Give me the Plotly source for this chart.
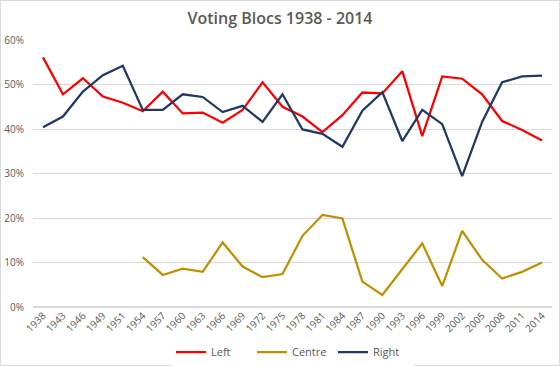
import plotly.graph_objects as go

years = ["1938","1943","1946","1949","1951","1954","1957","1960","1963","1966","1969","1972","1975",
         "1978","1981","1984","1987","1990","1993","1996","1999","2002","2005","2008","2011","2014"]
left = [56.1,47.8,51.4,47.3,45.9,44.0,48.4,43.5,43.7,41.4,44.3,50.5,45.0,
        42.8,39.3,43.1,48.2,48.0,53.0,38.4,51.8,51.3,47.8,41.8,39.8,37.4]
centre = [None,None,None,None,None,11.2,7.2,8.6,7.9,14.5,9.1,6.7,7.4,
          16.0,20.7,19.9,5.7,2.7,8.5,14.3,4.7,17.1,10.6,6.4,7.9,10.0]
right = [40.4,42.8,48.4,52.1,54.2,44.3,44.3,47.8,47.2,43.8,45.2,41.6,47.8,
         39.9,38.9,36.0,44.1,48.3,37.3,44.3,41.1,29.4,41.6,50.5,51.8,52.0]

def frac(vals):
    return [None if v is None else v / 100 for v in vals]

fig = go.Figure()
fig.add_trace(go.Scatter(x=years, y=frac(left), name="Left", mode="lines",
                         line=dict(color="#FF0000", width=2.25)))
fig.add_trace(go.Scatter(x=years, y=frac(centre), name="Centre", mode="lines",
                         line=dict(color="#BF9000", width=2.25)))
fig.add_trace(go.Scatter(x=years, y=frac(right), name="Right", mode="lines",
                         line=dict(color="#1F3864", width=2.25)))

L, R, T, B = 33, 8, 40, 59
W, H = 560 - L - R, 366 - T - B

fig.update_layout(
    width=560, height=366,
    margin=dict(l=L, r=R, t=T, b=B, autoexpand=False),
    paper_bgcolor="white", plot_bgcolor="white",
    font=dict(family="Open Sans, Liberation Sans, sans-serif", color="#595959", size=10),
    title=dict(text="Voting Blocs 1938 - 2014", x=0.5, xanchor="center", y=1 - 18.5/366, yanchor="middle",
               font=dict(size=16, color="#595959", weight=600)),
    showlegend=True,
    legend=dict(orientation="h", x=0.5, xanchor="center", y=-(352 - 307) / H, yanchor="middle",
                font=dict(size=11, color="#595959"), itemwidth=30, tracegroupgap=0,
                entrywidth=36, entrywidthmode="pixels"),
    xaxis=dict(type="category", range=[-0.5, 25.5], tickangle=-45, showgrid=False, showline=False,
               automargin=False, ticks="", tickfont=dict(size=10, color="#595959")),
    yaxis=dict(range=[0, 0.6], dtick=0.1, tickformat=".0%", showgrid=True, automargin=False,
               gridcolor="#D9D9D9", gridwidth=1, zeroline=True, zerolinecolor="#D9D9D9",
               showline=False, ticks="", ticklabelstandoff=8,
               tickfont=dict(size=10, color="#595959")),
)
# chart area border
fig.add_shape(type="rect", xref="paper", yref="paper",
              x0=(0.5 - L) / W, x1=(559.5 - L) / W,
              y0=-(365.5 - (366 - B)) / H, y1=1 + (T - 0.5) / H,
              line=dict(color="#D9D9D9", width=1), fillcolor="rgba(0,0,0,0)", layer="below")

fig.write_html("out.html", config={"displayModeBar": False},
               post_script="document.body.style.margin='0';document.body.style.overflow='hidden';")
